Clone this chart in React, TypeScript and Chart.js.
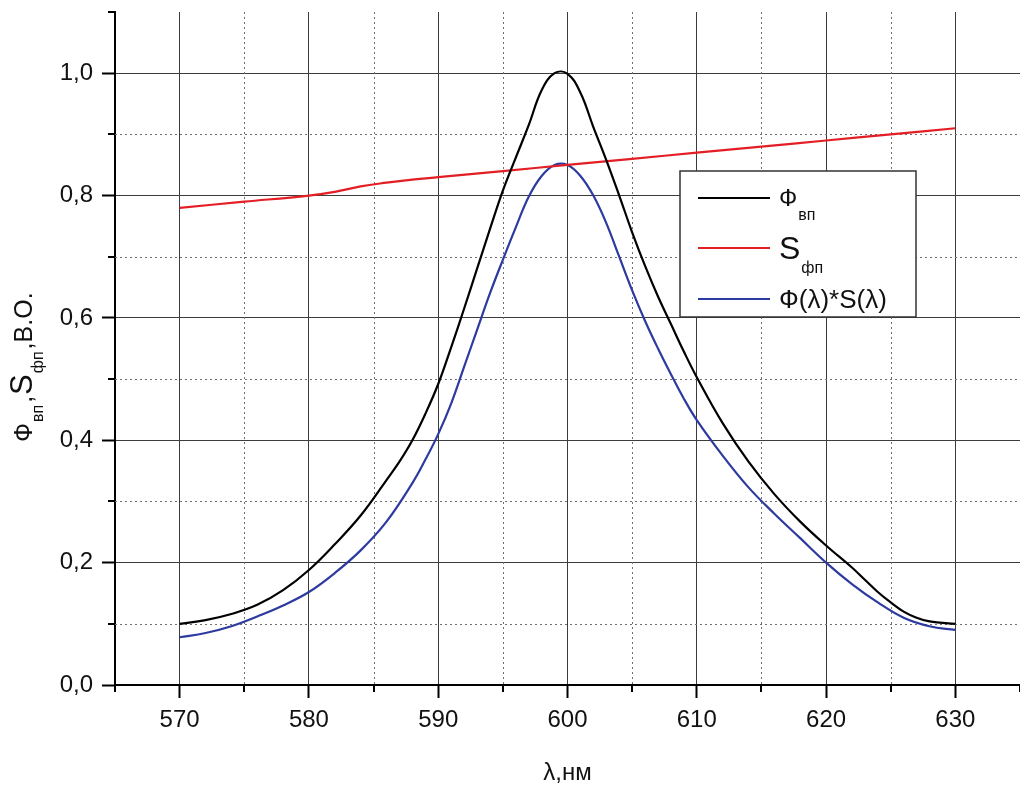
import React, { useEffect, useRef } from 'react';
import { Chart, registerables } from 'chart.js';

Chart.register(...registerables);

// Ф_вп (black)
const phiLambda = [570, 572, 574, 576, 578, 580, 582, 584, 586, 587, 588, 589, 590, 591, 592, 593, 594, 595, 596, 597, 598, 599, 600, 601, 602, 603, 604, 605, 606, 607, 608, 609, 610, 612, 614, 616, 618, 620, 622, 623, 624, 625, 626, 627, 628, 630];
const phiValues = [0.100, 0.106, 0.116, 0.131, 0.155, 0.188, 0.230, 0.277, 0.335, 0.365, 0.400, 0.443, 0.492, 0.552, 0.615, 0.680, 0.745, 0.808, 0.862, 0.915, 0.972, 1.000, 0.999, 0.968, 0.912, 0.858, 0.800, 0.740, 0.685, 0.635, 0.590, 0.545, 0.503, 0.428, 0.365, 0.312, 0.267, 0.228, 0.192, 0.172, 0.152, 0.135, 0.120, 0.110, 0.104, 0.100];

// S_фп (red)
const sLambda = [570, 575, 580, 582, 584, 586, 588, 590, 595, 600, 605, 610, 615, 620, 625, 630];
const sValues = [0.780, 0.790, 0.800, 0.806, 0.815, 0.821, 0.826, 0.830, 0.840, 0.850, 0.860, 0.870, 0.880, 0.890, 0.900, 0.910];

// Ф(λ)*S(λ) (blue)
const prodLambda = [570, 572, 574, 576, 578, 580, 582, 584, 586, 588, 589, 590, 591, 592, 593, 594, 595, 596, 597, 598, 599, 600, 601, 602, 603, 604, 605, 606, 607, 608, 609, 610, 612, 614, 616, 618, 620, 622, 624, 626, 628, 630];
const prodValues = [0.078, 0.085, 0.096, 0.112, 0.130, 0.152, 0.183, 0.220, 0.267, 0.330, 0.368, 0.410, 0.460, 0.520, 0.580, 0.640, 0.695, 0.748, 0.798, 0.832, 0.850, 0.850, 0.832, 0.800, 0.755, 0.700, 0.645, 0.595, 0.550, 0.508, 0.468, 0.433, 0.375, 0.323, 0.280, 0.240, 0.200, 0.165, 0.135, 0.110, 0.096, 0.090];

const xMin = 565;
const xMax = 635;
const xStep = 5;
const xMajorEvery = 10;
const yMin = 0;
const yMax = 1.1;
const yStep = 0.1;

const legendItems = [
  { main: 'Ф', sub: 'вп', mainSize: 24, color: '#000000' },
  { main: 'S', sub: 'фп', mainSize: 32, color: '#e31e24' },
  { main: 'Ф(λ)*S(λ)', sub: '', mainSize: 26, color: '#2d3a9f' },
];

const xTitle = 'λ,нм';
const yTitleParts = [
  { t: 'Ф', sub: false, size: 25 },
  { t: 'вп', sub: true, size: 16 },
  { t: ',', sub: false, size: 25 },
  { t: 'S', sub: false, size: 31 },
  { t: 'фп', sub: true, size: 16 },
  { t: ',В.О.', sub: false, size: 25 },
];

const FONT = '"Liberation Sans", Arial, Helvetica, sans-serif';

const isMajorX = (v: number) => Math.abs(v / xMajorEvery - Math.round(v / xMajorEvery)) < 1e-6;
const isMajorY = (v: number) => Math.round(v * 10) % 2 === 0;
const fmtY = (v: number) => (Math.round(v * 10) / 10).toFixed(1).replace('.', ',');

const customPlugin = {
  id: 'customDecor',
  beforeDatasetsDraw(chart: any) {
    const { ctx, chartArea: a, scales } = chart;
    const x = scales.x;
    const y = scales.y;
    ctx.save();
    ctx.strokeStyle = '#707070';
    ctx.lineWidth = 1;
    ctx.setLineDash([2, 3]);
    for (const t of x.ticks) {
      if (isMajorX(t.value)) continue;
      const px = Math.round(x.getPixelForValue(t.value)) + 0.5;
      if (px <= a.left + 2 || px >= a.right - 2) continue;
      ctx.beginPath();
      ctx.moveTo(px, a.top);
      ctx.lineTo(px, a.bottom);
      ctx.stroke();
    }
    for (const t of y.ticks) {
      if (isMajorY(t.value)) continue;
      const py = Math.round(y.getPixelForValue(t.value)) + 0.5;
      if (py <= a.top + 2 || py >= a.bottom - 2) continue;
      ctx.beginPath();
      ctx.moveTo(a.left, py);
      ctx.lineTo(a.right, py);
      ctx.stroke();
    }
    ctx.setLineDash([]);
    ctx.strokeStyle = '#000';
    ctx.lineWidth = 2;
    for (const t of x.ticks) {
      if (isMajorX(t.value)) continue;
      const px = Math.round(x.getPixelForValue(t.value));
      ctx.beginPath();
      ctx.moveTo(px, a.bottom);
      ctx.lineTo(px, a.bottom + 7);
      ctx.stroke();
    }
    for (const t of y.ticks) {
      if (isMajorY(t.value)) continue;
      const py = Math.round(y.getPixelForValue(t.value));
      ctx.beginPath();
      ctx.moveTo(a.left - 7, py);
      ctx.lineTo(a.left, py);
      ctx.stroke();
    }
    ctx.restore();
  },
  afterDraw(chart: any) {
    const { ctx, chartArea: a } = chart;
    ctx.save();
    const bx = 680, by = 171, bw = 236, bh = 146;
    ctx.fillStyle = '#ffffff';
    ctx.fillRect(bx, by, bw, bh);
    ctx.strokeStyle = '#333';
    ctx.lineWidth = 1.5;
    ctx.strokeRect(bx, by, bw, bh);
    const rowY = [198, 248, 299];
    const baseY = [206, 259, 308];
    legendItems.forEach((it, i) => {
      ctx.strokeStyle = it.color;
      ctx.lineWidth = 2.2;
      ctx.beginPath();
      ctx.moveTo(698, rowY[i]);
      ctx.lineTo(770, rowY[i]);
      ctx.stroke();
      ctx.fillStyle = '#111';
      ctx.textBaseline = 'alphabetic';
      ctx.textAlign = 'left';
      ctx.font = `${it.mainSize}px ${FONT}`;
      ctx.fillText(it.main, 779, baseY[i]);
      const w = ctx.measureText(it.main).width;
      if (it.sub) {
        ctx.font = `16px ${FONT}`;
        ctx.fillText(it.sub, 779 + w + 1, baseY[i] + 14);
      }
    });
    ctx.fillStyle = '#111';
    ctx.font = `24px ${FONT}`;
    ctx.textAlign = 'center';
    ctx.textBaseline = 'alphabetic';
    ctx.fillText(xTitle, (a.left + a.right) / 2, 780);
    ctx.translate(32, 442);
    ctx.rotate(-Math.PI / 2);
    ctx.textAlign = 'left';
    let cx = 0;
    for (const p of yTitleParts) {
      ctx.font = `${p.size}px ${FONT}`;
      ctx.fillText(p.t, cx, p.sub ? 11 : 0);
      cx += ctx.measureText(p.t).width + (p.sub ? 2 : 1);
    }
    ctx.restore();
  },
};

export default function App() {
  const canvasRef = useRef<HTMLCanvasElement | null>(null);

  useEffect(() => {
    const canvas = canvasRef.current;
    if (!canvas) return;
    const toPts = (xs: number[], ys: number[]) => xs.map((x, i) => ({ x, y: ys[i] }));
    const lineStyle = { borderWidth: 2.2, pointRadius: 0, tension: 0.4, fill: false };
    const chart = new Chart(canvas, {
      type: 'line',
      data: {
        datasets: [
          { label: 'Ф вп', data: toPts(phiLambda, phiValues), borderColor: '#000000', ...lineStyle },
          { label: 'S фп', data: toPts(sLambda, sValues), borderColor: '#e31e24', ...lineStyle },
          { label: 'Ф(λ)*S(λ)', data: toPts(prodLambda, prodValues), borderColor: '#2d3a9f', ...lineStyle },
        ],
      },
      options: {
        responsive: false,
        animation: false,
        devicePixelRatio: 1,
        layout: { padding: { top: 12, left: 0, right: 0, bottom: 0 } },
        plugins: {
          legend: { display: false },
          tooltip: { enabled: false },
          title: { display: false },
        },
        scales: {
          x: {
            type: 'linear',
            min: xMin,
            max: xMax,
            afterFit: (s: any) => {
              s.height = 100;
              s.paddingLeft = 0;
              s.paddingRight = 0;
            },
            ticks: {
              stepSize: xStep,
              autoSkip: false,
              maxRotation: 0,
              includeBounds: false,
              padding: 8,
              color: '#111',
              font: { family: FONT, size: 24 },
              callback: (v: any) => (isMajorX(Number(v)) ? String(Math.round(Number(v))) : ''),
            },
            grid: {
              color: (c: any) => (c.tick && isMajorX(c.tick.value) && c.tick.value !== xMin ? '#3c3c3c' : 'rgba(0,0,0,0)'),
              lineWidth: 1,
              tickLength: 13,
              tickWidth: 2,
              tickColor: (c: any) => (c.tick && isMajorX(c.tick.value) ? '#000' : 'rgba(0,0,0,0)'),
            },
            border: { display: true, color: '#000', width: 2 },
          },
          y: {
            type: 'linear',
            min: yMin,
            max: yMax,
            afterFit: (s: any) => {
              s.width = 115;
              s.paddingTop = 0;
              s.paddingBottom = 0;
            },
            ticks: {
              stepSize: yStep,
              autoSkip: false,
              includeBounds: false,
              padding: 9,
              color: '#111',
              font: { family: FONT, size: 24 },
              callback: (v: any) => (isMajorY(Number(v)) ? fmtY(Number(v)) : ''),
            },
            grid: {
              color: (c: any) => (c.tick && isMajorY(c.tick.value) && c.tick.value !== yMin ? '#3c3c3c' : 'rgba(0,0,0,0)'),
              lineWidth: 1,
              tickLength: 13,
              tickWidth: 2,
              tickColor: (c: any) => (c.tick && isMajorY(c.tick.value) ? '#000' : 'rgba(0,0,0,0)'),
            },
            border: { display: true, color: '#000', width: 2 },
          },
        },
      },
      plugins: [customPlugin],
    });
    return () => chart.destroy();
  }, []);

  return (
    <canvas
      ref={canvasRef}
      width={1020}
      height={785}
      style={{ position: 'absolute', left: 0, top: 0, display: 'block', background: '#fff' }}
    />
  );
}
